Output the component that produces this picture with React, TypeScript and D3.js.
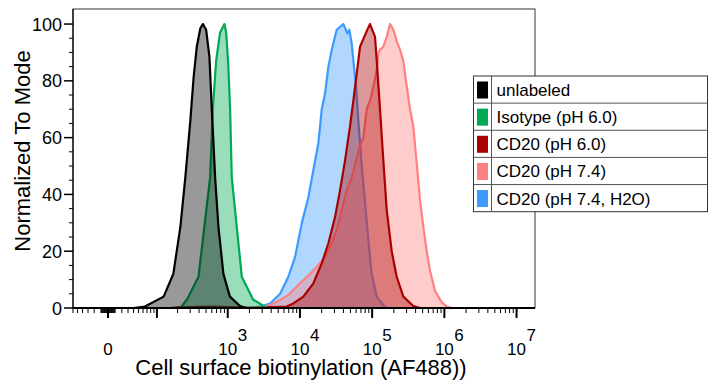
import * as d3 from 'd3';

type Pt = [number, number]; // [log10 intensity, % of mode]

const seriesNames = ['unlabeled', 'Isotype (pH 6.0)', 'CD20 (pH 6.0)', 'CD20 (pH 7.4)', 'CD20 (pH 7.4, H2O)'];

const unlabeled: Pt[] = [
  [1.6, 0], [1.81, 0.5], [2.1, 4], [2.24, 12], [2.34, 28.6], [2.41, 46], [2.48, 66], [2.525, 81],
  [2.57, 92], [2.62, 98.5], [2.655, 100], [2.7, 98], [2.746, 88.5], [2.779, 70], [2.825, 46],
  [2.871, 28.6], [2.94, 12], [3.03, 4], [3.17, 0.7], [3.26, 0], [3.5, 0],
];

const isotype: Pt[] = [
  [1.8, 0], [2.34, 0], [2.433, 3], [2.594, 11], [2.756, 46], [2.793, 70], [2.839, 87], [2.894, 97],
  [2.954, 100], [2.978, 97], [3.005, 87], [3.033, 70], [3.056, 46], [3.195, 11], [3.351, 3],
  [3.541, 0], [3.7, 0],
];

const cd20pH60: Pt[] = [
  [2.2, 0], [2.3, 0.2], [2.6, 0.4], [2.8, 0.5], [3.0, 0.3], [3.3, 0.1], [3.6, 0.3], [3.818, 0.5],
  [3.909, 1.6], [4.047, 4], [4.186, 8.7], [4.302, 15.7], [4.394, 22.8], [4.486, 32], [4.556, 41.5],
  [4.625, 52], [4.694, 64], [4.74, 73], [4.787, 82.6], [4.832, 92], [4.925, 97.5], [4.971, 100],
  [5.04, 95.5], [5.064, 87], [5.109, 70], [5.155, 52], [5.202, 34.5], [5.271, 20], [5.34, 11],
  [5.432, 4], [5.57, 0.7], [5.663, 0],
];

const cd20pH74: Pt[] = [
  [3.45, 0], [3.586, 1], [3.725, 2.8], [3.858, 5], [4.002, 8.7], [4.14, 12], [4.233, 14.5],
  [4.348, 18], [4.441, 22.8], [4.51, 27.5], [4.579, 34.5], [4.648, 41.5], [4.718, 46], [4.787, 53],
  [4.832, 57], [4.878, 60], [4.925, 70], [4.971, 73], [5.017, 78], [5.064, 83.8], [5.086, 89.7],
  [5.109, 91], [5.155, 92], [5.202, 95.5], [5.248, 100], [5.294, 98], [5.34, 94], [5.386, 91],
  [5.432, 87], [5.479, 78], [5.525, 70], [5.57, 64], [5.617, 51], [5.663, 38], [5.709, 28.6],
  [5.756, 20], [5.802, 13], [5.871, 6], [5.964, 2], [6.033, 0.5], [6.106, 0],
];

const cd20H2O: Pt[] = [
  [3.3, 0], [3.448, 0.5], [3.586, 1.6], [3.725, 5], [3.84, 11], [3.933, 18], [4.025, 29.8],
  [4.117, 39], [4.186, 48.6], [4.255, 58], [4.302, 70], [4.348, 75.6], [4.394, 85], [4.441, 91],
  [4.51, 98], [4.601, 100], [4.657, 96.7], [4.684, 98], [4.718, 93], [4.74, 87], [4.777, 78],
  [4.809, 66], [4.856, 50], [4.902, 37], [4.947, 24], [4.994, 12], [5.064, 4], [5.155, 1],
  [5.202, 0],
];

const seriesData = [unlabeled, isotype, cd20pH60, cd20pH74, cd20H2O];
const seriesColors = ['#000000', '#00aa55', '#aa0000', '#ff8080', '#3d9bff'];

const yTicks = [0, 20, 40, 60, 80, 100];
const xLabelExps = [3, 4, 5, 6, 7];

const W = 708;
const H = 383;
const left = 73, right = 535, top = 9, bottom = 308;
const BIEX = 44; // width constant of the arcsinh display transform

const font = 'Liberation Sans, Arial, sans-serif';

export default function App() {
  const xT = d3.scaleLinear()
    .domain([Math.asinh(-60 / BIEX), Math.asinh(1.8e7 / BIEX)])
    .range([left, right]);
  const x = (v: number) => xT(Math.asinh(v / BIEX));
  const y = d3.scaleLinear().domain([0, 105.3]).range([bottom, top]);

  const area = d3.area<Pt>()
    .x(d => x(Math.pow(10, d[0])))
    .y0(y(0))
    .y1(d => y(d[1]));
  const line = d3.line<Pt>()
    .x(d => x(Math.pow(10, d[0])))
    .y(d => y(d[1]));

  // biexponential-style tick set
  const xTicks: { v: number; major: boolean }[] = [{ v: 0, major: true }];
  for (let m = 0; m <= 7; m++) {
    for (let k = 1; k <= 9; k++) {
      const v = k * Math.pow(10, m);
      if (v <= 1.8e7) xTicks.push({ v, major: k === 1 && m >= 2 });
      if (-v >= -60) xTicks.push({ v: -v, major: false });
    }
  }
  const yMinor = d3.range(0, 101, 5).filter(v => v % 20 !== 0);

  const order = [4, 3, 2, 1, 0];
  const rowH = 27.14;
  const lgX = 473.5, lgY = 76, lgW = 234;

  return (
    <svg width={W} height={H} style={{ position: 'absolute', left: 0, top: 0, fontFamily: font }}>
      <defs>
        <clipPath id="plot">
          <rect x={left} y={top} width={right - left} height={bottom - top} />
        </clipPath>
      </defs>
      <rect x={left} y={top} width={right - left} height={bottom - top} fill="#fff" stroke="#333" strokeWidth={1} />
      <g clipPath="url(#plot)">
        {order.map(i => (
          <g key={i}>
            <path d={area(seriesData[i]) || ''} fill={seriesColors[i]} fillOpacity={0.4} />
            <path d={line(seriesData[i]) || ''} fill="none" stroke={seriesColors[i]} strokeWidth={2.2} strokeLinejoin="round" />
          </g>
        ))}
      </g>

      {/* y axis */}
      <line x1={left} x2={left} y1={top} y2={bottom} stroke="#000" strokeWidth={1.2} />
      {yTicks.map(t => (
        <g key={t}>
          <line x1={left - 9} x2={left} y1={y(t)} y2={y(t)} stroke="#000" strokeWidth={1.5} />
          <text x={left - 11} y={y(t) + 6.5} textAnchor="end" fontSize={18} fill="#000">{t}</text>
        </g>
      ))}
      {yMinor.map(t => (
        <line key={t} x1={left - 4} x2={left} y1={y(t)} y2={y(t)} stroke="#000" strokeWidth={1} />
      ))}
      <text transform={`translate(30,151) rotate(-90)`} textAnchor="middle" fontSize={22} fill="#000">Normalized To Mode</text>

      {/* x axis */}
      <line x1={left} x2={right} y1={bottom} y2={bottom} stroke="#000" strokeWidth={2} />
      {xTicks.map((t, i) => (
        <line key={i} x1={x(t.v)} x2={x(t.v)} y1={bottom} y2={bottom + (t.major ? 10 : 5)}
          stroke="#000" strokeWidth={t.major ? 2 : 1} />
      ))}
      <text x={x(0)} y={355} textAnchor="middle" fontSize={17}>0</text>
      {xLabelExps.map(e => (
        <g key={e}>
          <text x={x(Math.pow(10, e))} y={355} textAnchor="middle" fontSize={17}>10</text>
          <text x={x(Math.pow(10, e)) + 10} y={341} textAnchor="start" fontSize={17}>{e}</text>
        </g>
      ))}
      <text x={301} y={375} textAnchor="middle" fontSize={22} fill="#000">Cell surface biotinylation (AF488))</text>

      {/* legend */}
      <g>
        <rect x={lgX} y={lgY} width={lgW} height={rowH * seriesNames.length} fill="#fff" stroke="#333" strokeWidth={1} />
        {seriesNames.map((name, i) => (
          <g key={name}>
            {i > 0 && <line x1={lgX} x2={lgX + lgW} y1={lgY + i * rowH} y2={lgY + i * rowH} stroke="#555" strokeWidth={1} />}
            <rect x={lgX + 3.5} y={lgY + i * rowH + 5.5} width={11} height={17} fill={seriesColors[i]} />
            <text x={lgX + 23} y={lgY + i * rowH + 20} fontSize={17} fill="#000">{name}</text>
          </g>
        ))}
        <line x1={lgX + 18} x2={lgX + 18} y1={lgY} y2={lgY + rowH * seriesNames.length} stroke="#555" strokeWidth={1} />
      </g>
    </svg>
  );
}
